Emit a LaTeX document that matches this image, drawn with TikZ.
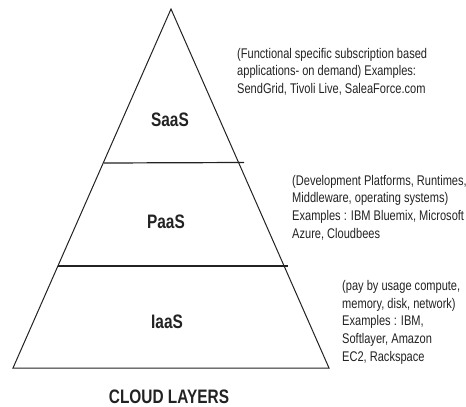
\documentclass[tikz,border=0pt]{standalone}
\usepackage{fontspec}
\setmainfont[FakeStretch=0.79]{Liberation Sans}
\definecolor{ink}{HTML}{222222}
\begin{document}
\begin{tikzpicture}[x=1pt,y=-1pt,
  edge/.style={draw=ink,line width=1pt},
  layer/.style={font=\bfseries\fontsize{19.5}{22}\selectfont,text=ink,inner sep=0,anchor=base},
  desc/.style={font=\fontsize{14}{17.6}\selectfont,text=ink,inner sep=0,align=left,anchor=base west}]
\useasboundingbox (0,0) rectangle (466,407);
\coordinate (apex) at (171,9);
\coordinate (bl) at (13,368);
\coordinate (br) at (329,368);
\coordinate (s1) at (104,163);
\coordinate (e1) at (244,162.5);
\coordinate (s2) at (58,266);
\coordinate (e2) at (288,266);
\draw[edge,line join=miter] (apex) -- (br) -- (bl) -- cycle;
\draw[edge,line width=1.2pt] (s1) -- (e1);
\draw[edge,line width=1.2pt] (s2) -- (e2);
\node[layer] (saas) at (170,126) {SaaS};
\node[layer] (paas) at (166,228) {PaaS};
\node[layer] (iaas) at (167,328) {IaaS};
\node[layer] (title) at (169,403.5) {CLOUD LAYERS};
\node[desc] (d1) at (237,93.5) {(Functional specific subscription based\\applications- on demand) Examples:\\SendGrid, Tivoli Live, SaleaForce.com};
\node[desc] (d2) at (292,238) {(Development Platforms, Runtimes,\\Middleware, operating systems)\\Examples : IBM Bluemix, Microsoft\\Azure, Cloudbees};
\node[desc] (d3) at (342,361) {(pay by usage compute,\\memory, disk, network)\\Examples : IBM,\\Softlayer, Amazon\\EC2, Rackspace};
\end{tikzpicture}
\end{document}
